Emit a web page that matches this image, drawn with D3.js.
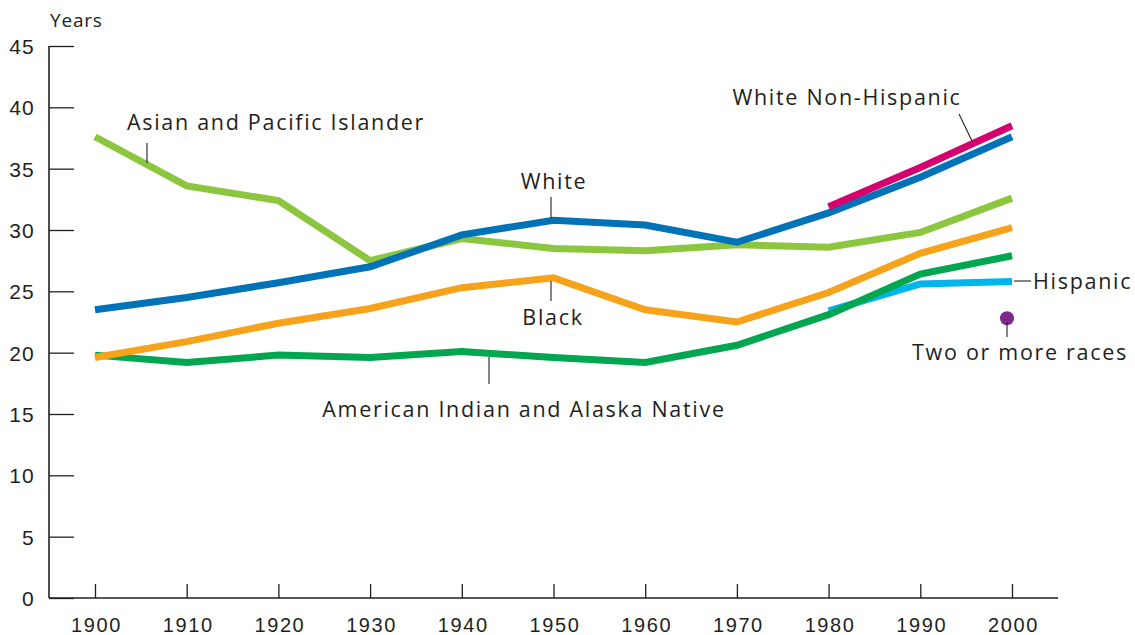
<!DOCTYPE html>
<html>
<head>
<meta charset="utf-8">
<script src="https://cdn.jsdelivr.net/npm/d3@7"></script>
<style>
  html, body { margin: 0; padding: 0; background: #fff; }
  svg { display: block; font-family: "Open Sans", "Noto Sans", sans-serif; }
  text { fill: #231f20; }
</style>
</head>
<body>
<svg id="chart" width="1135" height="635"></svg>
<script>
// Median age by race and Hispanic origin, 1900–2000
const years = [1900, 1910, 1920, 1930, 1940, 1950, 1960, 1970, 1980, 1990, 2000];
const yTicks = [0, 5, 10, 15, 20, 25, 30, 35, 40, 45];

const asianPacific = [37.6, 33.6, 32.4, 27.5, 29.3, 28.5, 28.3, 28.8, 28.6, 29.8, 32.6];
const white        = [23.5, 24.5, 25.7, 27.0, 29.6, 30.8, 30.4, 29.0, 31.4, 34.3, 37.6];
const black        = [19.6, 20.9, 22.4, 23.6, 25.3, 26.1, 23.5, 22.5, 24.9, 28.1, 30.2];
const amIndian     = [19.8, 19.2, 19.8, 19.6, 20.1, 19.6, 19.2, 20.6, 23.1, 26.4, 27.9];
const whiteNonHispYears = [1980, 1990, 2000];
const whiteNonHisp = [31.9, 35.1, 38.5];
const hispanicYears = [1980, 1990, 2000];
const hispanic     = [23.4, 25.6, 25.8];
const twoOrMoreYear = 2000;
const twoOrMore    = 22.8;

const svg = d3.select("#chart");
const x = d3.scaleLinear().domain([1900, 2000]).range([95, 1012]);
const y = d3.scaleLinear().domain([0, 45]).range([598, 46]);

const axisColor = "#231f20";

// Y axis: inward ticks
const yAxis = svg.append("g").attr("transform", "translate(49,0)")
  .call(d3.axisRight(y).tickValues(yTicks).tickSize(25).tickFormat(d3.format("d")));
yAxis.select(".domain").attr("d", `M0,${y(45)}V598`);
yAxis.selectAll(".tick line").attr("stroke", axisColor).attr("stroke-width", 1.3);
yAxis.selectAll(".tick text").attr("x", -14).attr("text-anchor", "end")
  .attr("font-size", 21).attr("letter-spacing", 1.2)
  .attr("fill", axisColor).attr("dy", "0.36em");

// X axis: upward ticks
const xAxis = svg.append("g").attr("transform", "translate(0,598)")
  .call(d3.axisTop(x).tickValues(years).tickSize(14).tickFormat(d3.format("d")));
xAxis.select(".domain").attr("d", "M49,0H1058");
xAxis.selectAll(".tick text").attr("x", 1).attr("y", 27).attr("dy", "0.36em")
  .attr("font-size", 20).attr("letter-spacing", 1.6).attr("fill", axisColor);
xAxis.selectAll(".tick line").attr("stroke", axisColor).attr("stroke-width", 1.3);
svg.selectAll(".domain").attr("stroke", axisColor).attr("stroke-width", 1.6);

svg.append("text").attr("x", 50).attr("y", 27).attr("font-size", 19)
  .attr("letter-spacing", 0.8).text("Years");

// Series lines
const line = d3.line().x(d => x(d[0])).y(d => y(d[1]));
const series = [
  { years: years, vals: asianPacific, color: "#8cc63f" },
  { years: hispanicYears, vals: hispanic, color: "#00b4ec" },
  { years: years, vals: amIndian, color: "#00a650" },
  { years: years, vals: black, color: "#f7a21b" },
  { years: years, vals: white, color: "#0072b8" },
  { years: whiteNonHispYears, vals: whiteNonHisp, color: "#d5006d" }
];
svg.append("g").selectAll("path").data(series).join("path")
  .attr("d", s => line(s.years.map((yr, i) => [yr, s.vals[i]])))
  .attr("fill", "none")
  .attr("stroke", s => s.color)
  .attr("stroke-width", 7)
  .attr("stroke-linejoin", "miter")
  .attr("stroke-linecap", "butt");

// Two or more races point
svg.append("circle").attr("cx", x(twoOrMoreYear) - 5).attr("cy", y(twoOrMore))
  .attr("r", 7).attr("fill", "#7d2a8d");

// Labels with leader lines
const labels = [
  { text: "Asian and Pacific Islander", x: 127, y: 130, anchor: "start", l: [147, 143, 147, 163] },
  { text: "White", x: 554, y: 189, anchor: "middle", l: [551, 197, 551, 218] },
  { text: "Black", x: 553, y: 325, anchor: "middle", l: [551, 281, 551, 301] },
  { text: "American Indian and Alaska Native", x: 524, y: 417, anchor: "middle", l: [489, 357, 489, 384] },
  { text: "White Non-Hispanic", x: 847, y: 105, anchor: "middle", l: [959, 114, 972, 141] },
  { text: "Hispanic", x: 1033, y: 289, anchor: "start", l: [1014, 281, 1031, 281] },
  { text: "Two or more races", x: 1020, y: 360, anchor: "middle", l: [1007, 322, 1007, 337] }
];
const lg = svg.append("g");
lg.selectAll("line").data(labels).join("line")
  .attr("x1", d => d.l[0]).attr("y1", d => d.l[1])
  .attr("x2", d => d.l[2]).attr("y2", d => d.l[3])
  .attr("stroke", axisColor).attr("stroke-width", 1.1);
lg.selectAll("text").data(labels).join("text")
  .attr("x", d => d.x).attr("y", d => d.y)
  .attr("text-anchor", d => d.anchor)
  .attr("font-size", 21.5)
  .attr("letter-spacing", 1.7)
  .text(d => d.text);
</script>
</body>
</html>
